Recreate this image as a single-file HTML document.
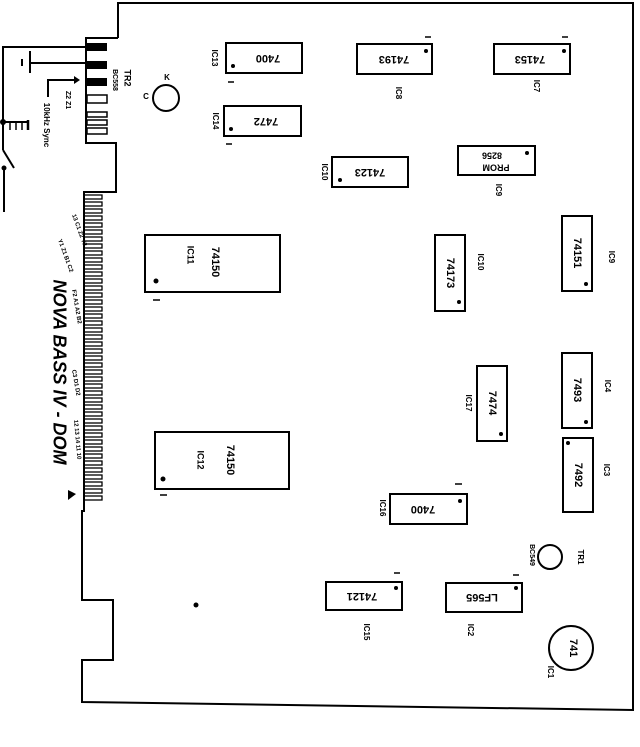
<!DOCTYPE html>
<html><head><meta charset="utf-8"><style>
html,body{margin:0;padding:0;background:#fff;}
svg{display:block;}
text{font-family:"Liberation Sans",sans-serif;fill:#000;font-weight:bold;}
</style></head><body>
<svg width="640" height="747" viewBox="0 0 640 747" xmlns="http://www.w3.org/2000/svg">
<g fill="none" stroke="#000" stroke-width="2">
<!-- board outline -->
<polyline points="118,38 118,3 633,3 633,710 82,702 82,660 113,660 113,600 82,600 82,510"/>
<polyline points="118,38 86,38 86,143 116,143 116,192 84,192 84,512"/>
<!-- left wiring -->
<polyline points="87,47 3,47 3,122"/>
<line x1="3" y1="122" x2="28" y2="122"/>
<line x1="10" y1="122" x2="10" y2="130" stroke-width="1.5"/>
<line x1="16" y1="122" x2="16" y2="130" stroke-width="1.5"/>
<line x1="22" y1="122" x2="22" y2="130" stroke-width="1.5"/>
<line x1="28" y1="120" x2="28" y2="130" stroke-width="2.5"/>
<line x1="3" y1="122" x2="3" y2="150"/>
<line x1="3" y1="150" x2="14" y2="168"/>
<line x1="4" y1="170" x2="4" y2="212"/>
<line x1="30" y1="51" x2="30" y2="73"/>
<line x1="22" y1="59" x2="22" y2="66"/>
<line x1="30" y1="63" x2="87" y2="63"/>
<polyline points="48,97 48,80 78,80"/>
</g>
<circle cx="3" cy="122" r="3"/>
<circle cx="4" cy="168" r="2.5"/>
<polygon points="80,80 74,76 74,84"/>
<!-- top connector -->
<rect x="87" y="43" width="20" height="8"/>
<rect x="87" y="61" width="20" height="8"/>
<rect x="87" y="78" width="20" height="8"/>
<g fill="none" stroke="#000" stroke-width="1.5">
<rect x="87" y="95" width="20" height="8"/>
<rect x="87" y="112" width="20" height="5"/>
<rect x="87" y="120" width="20" height="5"/>
<rect x="87" y="128" width="20" height="6"/>
</g>
<!-- bottom connector fingers -->
<g fill="none" stroke="#000" stroke-width="1.3" id="fing">
<rect x="84" y="195" width="18" height="4"/><rect x="84" y="202" width="18" height="4"/><rect x="84" y="209" width="18" height="4"/><rect x="84" y="216" width="18" height="4"/><rect x="84" y="223" width="18" height="4"/><rect x="84" y="230" width="18" height="4"/><rect x="84" y="237" width="18" height="4"/><rect x="84" y="244" width="18" height="4"/><rect x="84" y="251" width="18" height="4"/><rect x="84" y="258" width="18" height="4"/><rect x="84" y="265" width="18" height="4"/><rect x="84" y="272" width="18" height="4"/><rect x="84" y="279" width="18" height="4"/><rect x="84" y="286" width="18" height="4"/><rect x="84" y="293" width="18" height="4"/><rect x="84" y="300" width="18" height="4"/><rect x="84" y="307" width="18" height="4"/><rect x="84" y="314" width="18" height="4"/><rect x="84" y="321" width="18" height="4"/><rect x="84" y="328" width="18" height="4"/><rect x="84" y="335" width="18" height="4"/><rect x="84" y="342" width="18" height="4"/><rect x="84" y="349" width="18" height="4"/><rect x="84" y="356" width="18" height="4"/><rect x="84" y="363" width="18" height="4"/><rect x="84" y="370" width="18" height="4"/><rect x="84" y="377" width="18" height="4"/><rect x="84" y="384" width="18" height="4"/><rect x="84" y="391" width="18" height="4"/><rect x="84" y="398" width="18" height="4"/><rect x="84" y="405" width="18" height="4"/><rect x="84" y="412" width="18" height="4"/><rect x="84" y="419" width="18" height="4"/><rect x="84" y="426" width="18" height="4"/><rect x="84" y="433" width="18" height="4"/><rect x="84" y="440" width="18" height="4"/><rect x="84" y="447" width="18" height="4"/><rect x="84" y="454" width="18" height="4"/><rect x="84" y="461" width="18" height="4"/><rect x="84" y="468" width="18" height="4"/><rect x="84" y="475" width="18" height="4"/><rect x="84" y="482" width="18" height="4"/><rect x="84" y="489" width="18" height="4"/><rect x="84" y="496" width="18" height="4"/>
</g>
<!-- IC boxes -->
<g fill="none" stroke="#000" stroke-width="2">
<rect x="226" y="43" width="76" height="30"/>
<rect x="357" y="44" width="75" height="30"/>
<rect x="494" y="44" width="76" height="30"/>
<rect x="224" y="106" width="77" height="30"/>
<rect x="332" y="157" width="76" height="30"/>
<rect x="458" y="146" width="77" height="29"/>
<rect x="145" y="235" width="135" height="57"/>
<rect x="435" y="235" width="30" height="76"/>
<rect x="562" y="216" width="30" height="75"/>
<rect x="477" y="366" width="30" height="75"/>
<rect x="562" y="353" width="30" height="75"/>
<rect x="563" y="438" width="30" height="74"/>
<rect x="155" y="432" width="134" height="57"/>
<rect x="390" y="494" width="77" height="30"/>
<rect x="326" y="582" width="76" height="28"/>
<rect x="446" y="583" width="76" height="29"/>
<circle cx="166" cy="98" r="13"/>
<circle cx="550" cy="557" r="12"/>
<circle cx="571" cy="648" r="22"/>
</g>
<!-- pin dots -->
<g>
<circle cx="233" cy="66" r="2"/><circle cx="426" cy="51" r="2"/><circle cx="564" cy="51" r="2"/>
<circle cx="231" cy="129" r="2"/><circle cx="340" cy="180" r="2"/><circle cx="527" cy="153" r="2"/>
<circle cx="156" cy="281" r="2.5"/><circle cx="459" cy="302" r="2"/><circle cx="586" cy="284" r="2"/>
<circle cx="501" cy="434" r="2"/><circle cx="586" cy="422" r="2"/><circle cx="568" cy="443" r="2"/>
<circle cx="163" cy="479" r="2.5"/><circle cx="460" cy="501" r="2"/><circle cx="396" cy="588" r="2"/>
<circle cx="516" cy="588" r="2"/><circle cx="196" cy="605" r="2.5"/>
</g>
<!-- upside-down chip labels -->
<g font-size="11">
<text transform="translate(268,58) rotate(180)" text-anchor="middle" dominant-baseline="middle">7400</text>
<text transform="translate(394,59) rotate(180)" text-anchor="middle" dominant-baseline="middle">74193</text>
<text transform="translate(530,59) rotate(180)" text-anchor="middle" dominant-baseline="middle">74153</text>
<text transform="translate(266,121) rotate(180)" text-anchor="middle" dominant-baseline="middle">7472</text>
<text transform="translate(370,172) rotate(180)" text-anchor="middle" dominant-baseline="middle">74123</text>
<text transform="translate(492,155) rotate(180)" text-anchor="middle" dominant-baseline="middle" font-size="9">8256</text>
<text transform="translate(496,167) rotate(180)" text-anchor="middle" dominant-baseline="middle" font-size="9">PROM</text>
<text transform="translate(423,509) rotate(180)" text-anchor="middle" dominant-baseline="middle">7400</text>
<text transform="translate(362,596) rotate(180)" text-anchor="middle" dominant-baseline="middle">74121</text>
<text transform="translate(482,597) rotate(180)" text-anchor="middle" dominant-baseline="middle">LF565</text>
</g>
<g font-size="11">
<text transform="translate(215,262) rotate(90)" text-anchor="middle" dominant-baseline="middle">74150</text>
<text transform="translate(190,255) rotate(90)" text-anchor="middle" dominant-baseline="middle" font-size="9">IC11</text>
<text transform="translate(230,460) rotate(90)" text-anchor="middle" dominant-baseline="middle">74150</text>
<text transform="translate(200,460) rotate(90)" text-anchor="middle" dominant-baseline="middle" font-size="9">IC12</text>
<text transform="translate(450,273) rotate(90)" text-anchor="middle" dominant-baseline="middle">74173</text>
<text transform="translate(577,253) rotate(90)" text-anchor="middle" dominant-baseline="middle">74151</text>
<text transform="translate(492,403) rotate(90)" text-anchor="middle" dominant-baseline="middle">7474</text>
<text transform="translate(577,390) rotate(90)" text-anchor="middle" dominant-baseline="middle">7493</text>
<text transform="translate(578,475) rotate(90)" text-anchor="middle" dominant-baseline="middle">7492</text>
<text transform="translate(573,648) rotate(90)" text-anchor="middle" dominant-baseline="middle">741</text>
</g>
<!-- IC designators -->
<g font-size="8" font-weight="normal">
<text transform="translate(214,58) rotate(90)" text-anchor="middle" dominant-baseline="middle">IC13</text>
<text transform="translate(398,93) rotate(90)" text-anchor="middle" dominant-baseline="middle">IC8</text>
<text transform="translate(536,86) rotate(90)" text-anchor="middle" dominant-baseline="middle">IC7</text>
<text transform="translate(215,121) rotate(90)" text-anchor="middle" dominant-baseline="middle">IC14</text>
<text transform="translate(324,172) rotate(90)" text-anchor="middle" dominant-baseline="middle">IC10</text>
<text transform="translate(498,190) rotate(90)" text-anchor="middle" dominant-baseline="middle">IC9</text>
<text transform="translate(480,262) rotate(90)" text-anchor="middle" dominant-baseline="middle">IC10</text>
<text transform="translate(611,257) rotate(90)" text-anchor="middle" dominant-baseline="middle">IC9</text>
<text transform="translate(468,403) rotate(90)" text-anchor="middle" dominant-baseline="middle">IC17</text>
<text transform="translate(607,386) rotate(90)" text-anchor="middle" dominant-baseline="middle">IC4</text>
<text transform="translate(606,470) rotate(90)" text-anchor="middle" dominant-baseline="middle">IC3</text>
<text transform="translate(382,508) rotate(90)" text-anchor="middle" dominant-baseline="middle">IC16</text>
<text transform="translate(366,632) rotate(90)" text-anchor="middle" dominant-baseline="middle">IC15</text>
<text transform="translate(470,630) rotate(90)" text-anchor="middle" dominant-baseline="middle">IC2</text>
<text transform="translate(580,557) rotate(90)" text-anchor="middle" dominant-baseline="middle">TR1</text>
<text transform="translate(550,672) rotate(90)" text-anchor="middle" dominant-baseline="middle">IC1</text>
<text transform="translate(532,555) rotate(90)" text-anchor="middle" dominant-baseline="middle" font-size="7">BC549</text>
<text x="167" y="80" text-anchor="middle">K</text>
<text x="146" y="99" text-anchor="middle">C</text>
<text transform="translate(127,78) rotate(90)" text-anchor="middle" dominant-baseline="middle" font-weight="bold" font-size="9">TR2</text>
<text transform="translate(115,80) rotate(90)" text-anchor="middle" dominant-baseline="middle" font-size="7">BC558</text>
<text transform="translate(46,125) rotate(90)" text-anchor="middle" dominant-baseline="middle" font-size="8">10kHz Sync</text>
<text transform="translate(68,100) rotate(90)" text-anchor="middle" dominant-baseline="middle" font-size="7">Z2 Z1</text>
</g>
<!-- small pin "1" ticks -->
<g stroke="#000" stroke-width="1.5">
<line x1="228" y1="82" x2="234" y2="82"/><line x1="425" y1="37" x2="431" y2="37"/><line x1="562" y1="37" x2="568" y2="37"/>
<line x1="226" y1="144" x2="232" y2="144"/><line x1="153" y1="300" x2="160" y2="300"/><line x1="160" y1="495" x2="167" y2="495"/>
<line x1="455" y1="484" x2="462" y2="484"/><line x1="394" y1="573" x2="400" y2="573"/><line x1="513" y1="575" x2="519" y2="575"/>
</g>
<!-- connector pin labels -->
<g font-size="6" font-weight="normal">
<text transform="translate(72,215) rotate(70)">13 C1 Z2 Y2</text>
<text transform="translate(58,240) rotate(70)">Y1 Z1 B1 C2</text>
<text transform="translate(72,290) rotate(80)">F2 A1 A2 B2</text>
<text transform="translate(72,370) rotate(80)">C3 D1 D2</text>
<text transform="translate(74,420) rotate(85)">12 13 14 11 10</text>
</g>
<text transform="translate(58,372) rotate(90)" text-anchor="middle" dominant-baseline="middle" font-size="18" font-style="italic">NOVA BASS IV - DOM</text>
<path d="M68 490 l8 4 l-8 6 z" fill="#000"/>
</svg>
</body></html>
